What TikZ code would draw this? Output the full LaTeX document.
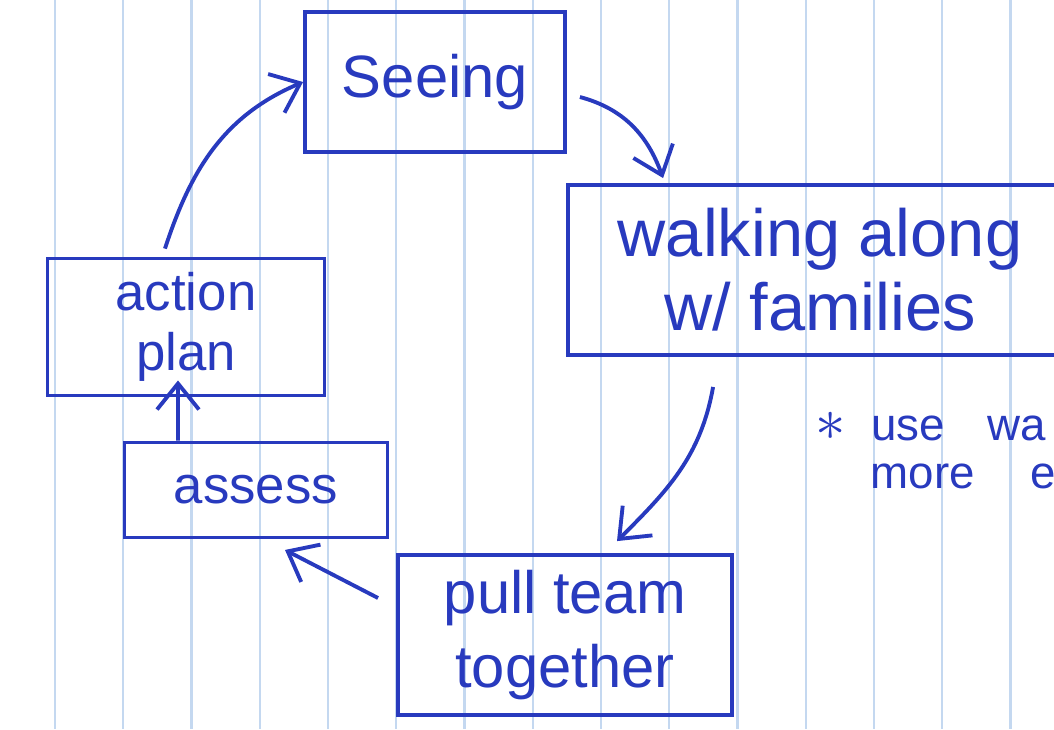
\documentclass[tikz,border=0pt]{standalone}
\usepackage{fontspec}
\setmainfont{Liberation Sans}
\usetikzlibrary{calc,arrows.meta}
\definecolor{ink}{RGB}{40,58,190}
\definecolor{paperline}{RGB}{196,216,240}

\begin{document}
\begin{tikzpicture}[
		rule/.style={color=paperline, line width=0.7pt},
		box/.style={draw=ink, line width=1.1pt, rectangle, inner sep=0pt, text=ink, align=center},
		ink arrow/.style={draw=ink, line width=1.1pt, -{Straight Barb[length=2.6mm, width=4.2mm]}},
		note/.style={text=ink, anchor=base west, inner sep=0pt, font=\fontsize{13}{15}\selectfont}
	]
			%%%%% START %%%%%
			
			\clip (0, 0) rectangle (10.54, -7.29);
			
			\foreach \i in {0,...,14}
				\draw[rule] ({0.55 + 0.6825*\i}, 0) -- ++(0, -7.29);
			
			\node[box, minimum width=2.6cm, minimum height=1.4cm, font=\fontsize{17}{19}\selectfont] (seeing) at (4.35, -0.82) {Seeing};
			\node[box, minimum width=5.04cm, minimum height=1.7cm, font=\fontsize{19}{21}\selectfont] (walk) at (8.20, -2.70) {walking along\\w/ families};
			\node[box, minimum width=2.77cm, minimum height=1.37cm, font=\fontsize{15}{16}\selectfont] (plan) at (1.86, -3.27) {action\\[1pt]plan};
			\node[box, minimum width=2.63cm, minimum height=0.95cm, font=\fontsize{15}{17}\selectfont] (assess) at (2.56, -4.90) {assess};
			\node[box, minimum width=3.34cm, minimum height=1.6cm, font=\fontsize{17}{21}\selectfont] (pull) at (5.65, -6.35) {pull team\\together};
			
			\draw[ink arrow] ([shift={(-0.21, 0.08)}]plan.north) to[out=72, in=203] (seeing.west);
			\draw[ink arrow] ([shift={(0.13, -0.15)}]seeing.east) to[out=-15, in=110] ([shift={(0.97, 0.05)}]walk.north west);
			\draw[ink arrow] ([shift={(1.47, -0.30)}]walk.south west) to[out=-100, in=45] ([shift={(0.52, 0.12)}]pull.north);
			\draw[ink arrow] ([shift={(-0.18, 0.37)}]pull.west) -- ([shift={(0.29, -0.105)}]assess.south);
			\draw[ink arrow] ([xshift=-0.78cm]assess.north) -- ([shift={(-0.08, 0.17)}]plan.south);
			
			\node[note] (star) at (8.15, -4.40) {\fontsize{18}{18}\selectfont$\ast$\hspace{0.25cm}\fontsize{13}{15}\selectfont use\hspace{0.43cm}wa};
			\node[note] (more) at (8.70, -4.88) {more\hspace{0.56cm}e};
			
			%%%%% END %%%%%
\end{tikzpicture}
\end{document}
